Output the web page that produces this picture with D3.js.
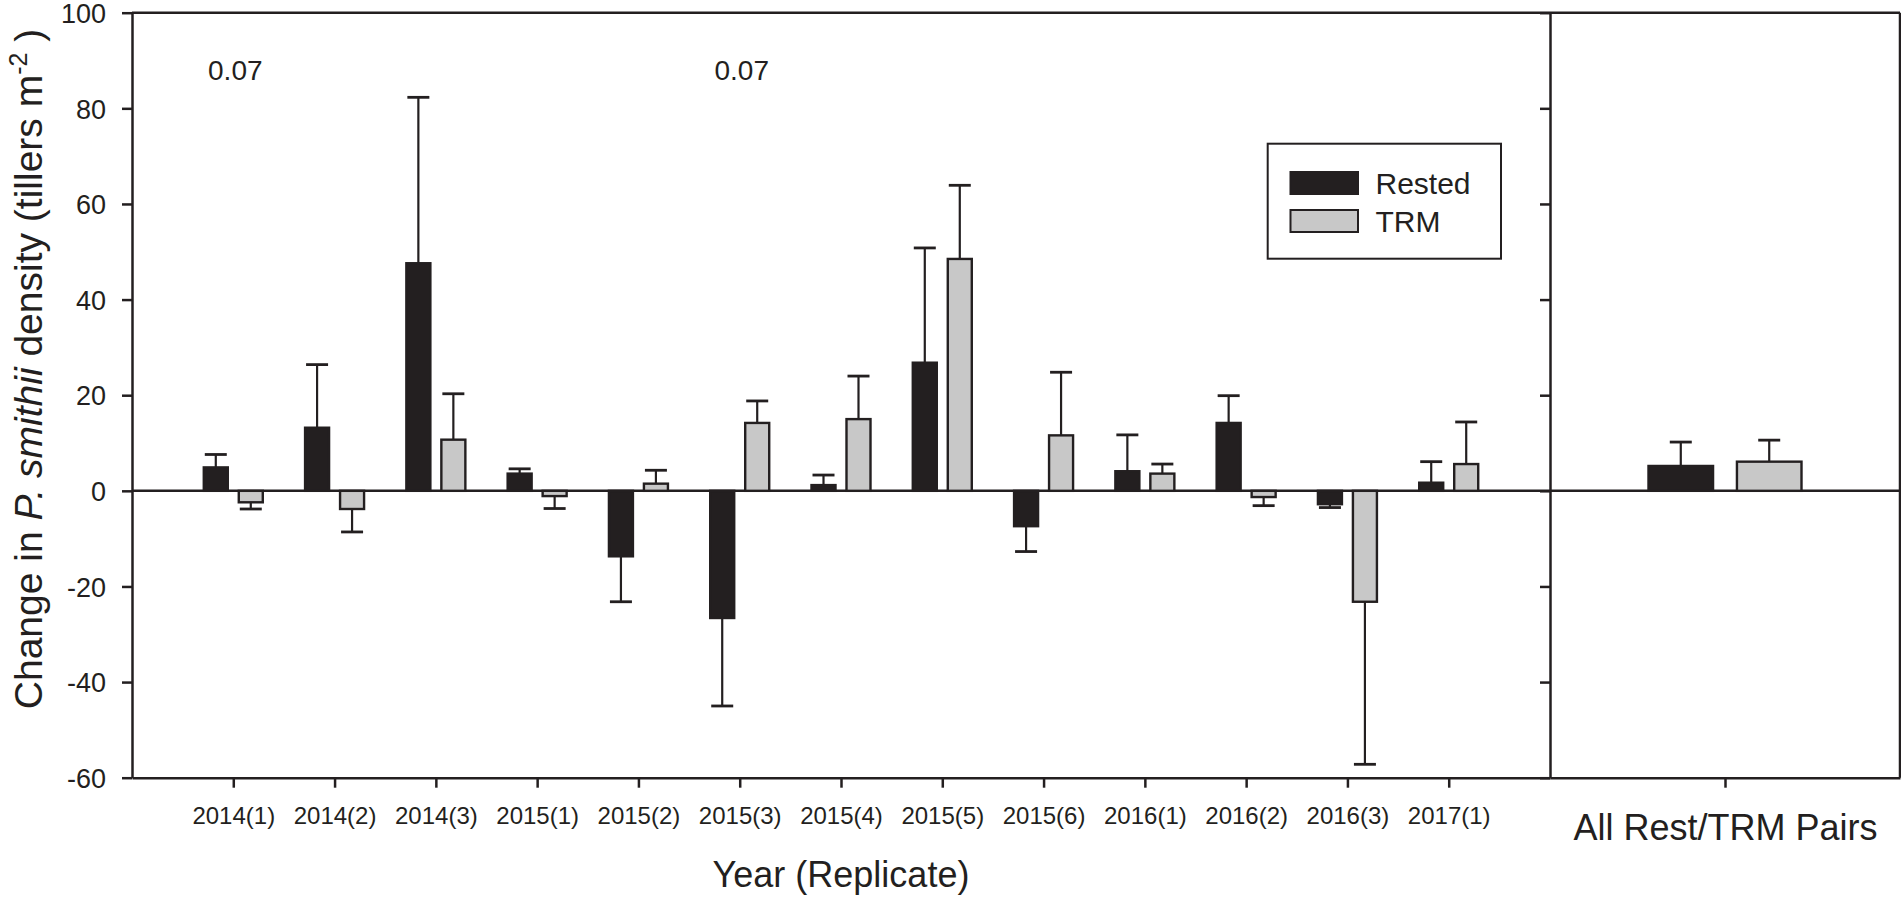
<!DOCTYPE html>
<html>
<head>
<meta charset="utf-8">
<script src="https://cdn.jsdelivr.net/npm/d3@7"></script>
<style>
  html, body { margin: 0; padding: 0; background: #ffffff; }
  svg { display: block; }
  text { font-family: "Liberation Sans", Arial, sans-serif; fill: #231f20; }
</style>
</head>
<body>
<svg id="chart" width="1901" height="897"></svg>
<script>
// ---------------- data ----------------
const categories = ["2014(1)","2014(2)","2014(3)","2015(1)","2015(2)","2015(3)","2015(4)","2015(5)","2015(6)","2016(1)","2016(2)","2016(3)","2017(1)"];
const seriesNames = ["Rested","TRM"];
const restedMean = [4.9, 13.2, 47.6, 3.6, -13.7, -26.6, 1.2, 26.8, -7.4, 4.1, 14.2, -2.8, 1.7];
const restedSE   = [2.7, 13.2, 34.7, 1.0, 9.5, 18.4, 2.1, 24.0, 5.3, 7.6, 5.7, 0.7, 4.4];
const trmMean    = [-2.4, -3.8, 10.7, -1.1, 1.5, 14.2, 15.0, 48.5, 11.6, 3.6, -1.3, -23.2, 5.6];
const trmSE      = [1.4, 4.8, 9.6, 2.6, 2.8, 4.6, 9.0, 15.4, 13.2, 2.0, 1.8, 34.0, 8.8];
const pooledCategory = ["All Rest/TRM Pairs"];
const pooledMean = [5.2, 6.1];
const pooledSE   = [5.0, 4.5];
const yTicks = [-60, -40, -20, 0, 20, 40, 60, 80, 100];
const pLabels = [{cat: "2014(1)", text: "0.07"}, {cat: "2015(3)", text: "0.07"}];
const colors = {Rested: "#231f20", TRM: "#c8c8c8"};

(function () {
// ---------------- layout ----------------
const INK = "#231f20";
const pLeft = 132, pMid = 1550, pRight = 1900, pTop = 12.7, pBottom = 777.7;
const svg = d3.select("#chart");

const y = d3.scaleLinear().domain([-60, 100]).range([pBottom, pTop]);
const xL = d3.scalePoint().domain(categories).range([pLeft, pMid]).padding(1);
const xR = d3.scalePoint().domain(pooledCategory).range([pMid, pRight]).padding(0.5);
const innerL = d3.scaleBand().domain(seriesNames).range([-29.5, 29.5]).paddingInner(0.314);
const innerR = d3.scaleBand().domain(seriesNames).range([-76.5, 76.5]).paddingInner(0.27);

const rows = [];
categories.forEach((c, i) => {
  rows.push({panel: "L", cat: c, s: "Rested", v: restedMean[i], se: restedSE[i]});
  rows.push({panel: "L", cat: c, s: "TRM", v: trmMean[i], se: trmSE[i]});
});
seriesNames.forEach((s, j) => {
  rows.push({panel: "R", cat: pooledCategory[0], s: s, v: pooledMean[j], se: pooledSE[j]});
});
const bx = d => d.panel === "L" ? xL(d.cat) + innerL(d.s) : xR(d.cat) + innerR(d.s);
const bw = d => d.panel === "L" ? innerL.bandwidth() : innerR.bandwidth();

// zero line
svg.append("line")
  .attr("x1", pLeft).attr("x2", pRight).attr("y1", y(0)).attr("y2", y(0))
  .attr("stroke", INK).attr("stroke-width", 2.5);

// error bars
const eb = svg.append("g").attr("stroke", INK).attr("stroke-width", 2.2);
rows.forEach(d => {
  const cx = bx(d) + bw(d) / 2;
  const end = d.v + Math.sign(d.v) * d.se;
  eb.append("line").attr("x1", cx).attr("x2", cx).attr("y1", y(d.v)).attr("y2", y(end));
  eb.append("line").attr("x1", cx - 11).attr("x2", cx + 11).attr("y1", y(end)).attr("y2", y(end)).attr("stroke-width", 2.8);
});

// bars
svg.append("g").selectAll("rect").data(rows).join("rect")
  .attr("x", d => bx(d))
  .attr("width", d => bw(d))
  .attr("y", d => y(Math.max(0, d.v)))
  .attr("height", d => Math.abs(y(d.v) - y(0)))
  .attr("fill", d => colors[d.s])
  .attr("stroke", INK).attr("stroke-width", 2.4);

// axes
const axisStyle = g => {
  g.selectAll("path.domain").attr("stroke", INK).attr("stroke-width", 2.5);
  g.selectAll(".tick line").attr("stroke", INK).attr("stroke-width", 2.5);
};
svg.append("g").attr("transform", `translate(${pLeft},0)`)
  .call(d3.axisLeft(y).tickValues(yTicks).tickSize(10).tickSizeOuter(0).tickPadding(16).tickFormat(d => String(d)))
  .call(axisStyle)
  .call(g => g.selectAll("text").attr("font-size", 27).attr("font-family", "Liberation Sans, Arial, sans-serif").attr("fill", INK).attr("dy", "0.36em"));

svg.append("g").attr("transform", `translate(${pMid},0)`)
  .call(d3.axisLeft(y).tickValues(yTicks).tickSize(10).tickSizeOuter(0).tickFormat(""))
  .call(axisStyle);

svg.append("g").attr("transform", `translate(0,${pBottom})`)
  .call(d3.axisBottom(xL).tickSize(10).tickSizeOuter(0))
  .call(axisStyle)
  .call(g => g.selectAll("text").attr("font-size", 24).attr("font-family", "Liberation Sans, Arial, sans-serif").attr("fill", INK).attr("dy", null).attr("y", 46.5));

svg.append("g").attr("transform", `translate(0,${pBottom})`)
  .call(d3.axisBottom(xR).tickSize(10).tickSizeOuter(0))
  .call(axisStyle)
  .call(g => g.selectAll("text").attr("font-size", 36).attr("font-family", "Liberation Sans, Arial, sans-serif").attr("fill", INK).attr("dy", null).attr("y", 62.5));

// frame: top and right border
svg.append("line").attr("x1", pLeft).attr("x2", pRight).attr("y1", pTop).attr("y2", pTop)
  .attr("stroke", INK).attr("stroke-width", 2.5);
svg.append("line").attr("x1", pRight).attr("x2", pRight).attr("y1", pTop).attr("y2", pBottom)
  .attr("stroke", INK).attr("stroke-width", 2.5);

// p-value labels
svg.append("g").selectAll("text").data(pLabels).join("text")
  .attr("x", d => xL(d.cat) + 2)
  .attr("y", 80)
  .attr("text-anchor", "middle")
  .attr("font-size", 28)
  .text(d => d.text);

// axis titles
svg.append("text")
  .attr("x", (pLeft + pMid) / 2)
  .attr("y", 886.5)
  .attr("text-anchor", "middle")
  .attr("font-size", 36)
  .text("Year (Replicate)");

const yt = svg.append("text")
  .attr("transform", "translate(42,369) rotate(-90)")
  .attr("text-anchor", "middle")
  .attr("font-size", 39);
yt.append("tspan").text("Change in ");
yt.append("tspan").attr("font-style", "italic").text("P. smithii");
yt.append("tspan").text(" density (tillers m");
yt.append("tspan").attr("font-size", 25).attr("dy", -15).text("-2");
yt.append("tspan").attr("dy", 15).text(" )");

// legend
const lg = svg.append("g");
lg.append("rect").attr("x", 1267.7).attr("y", 143.7).attr("width", 233.3).attr("height", 115)
  .attr("fill", "#ffffff").attr("stroke", INK).attr("stroke-width", 2);
seriesNames.forEach((s, i) => {
  lg.append("rect").attr("x", 1290.5).attr("y", 172 + i * 38).attr("width", 67.5).attr("height", 22)
    .attr("fill", colors[s]).attr("stroke", INK).attr("stroke-width", 2);
  lg.append("text").attr("x", 1375.5).attr("y", 193.5 + i * 38)
    .attr("font-size", 30).text(s);
});
})();
</script>
</body>
</html>
